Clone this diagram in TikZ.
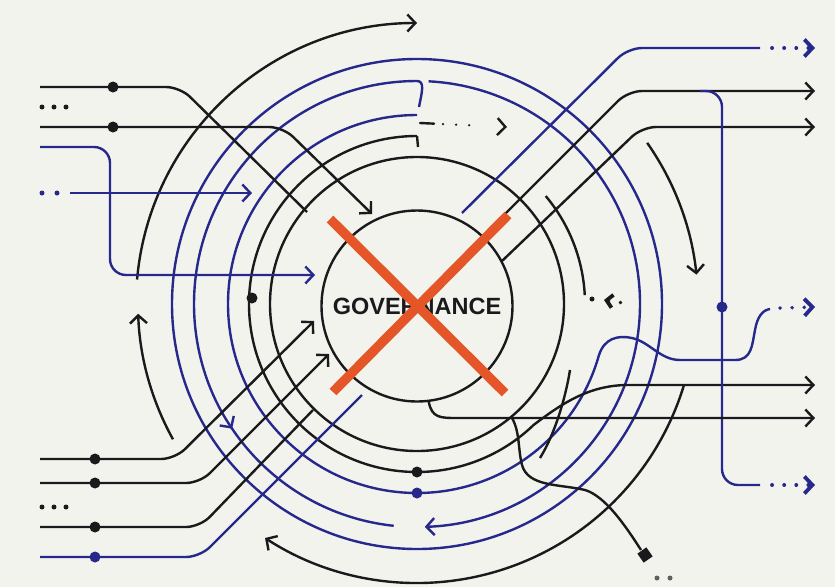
\documentclass[tikz,border=0pt]{standalone}
\usepackage{fontspec}
\setmainfont{Liberation Sans}
\usetikzlibrary{arrows.meta}
\definecolor{bg}{RGB}{243,243,238}
\definecolor{ink}{RGB}{26,26,28}
\definecolor{navy}{RGB}{38,40,140}
\definecolor{xred}{RGB}{228,86,40}
\tikzset{
  blk/.style={draw=ink, line width=2.4pt},
  blu/.style={draw=navy, line width=2.4pt},
  tip/.style={-{Straight Barb[length=8pt,width=17pt]}},
  dotb/.style={fill=ink, circle, inner sep=0pt, minimum size=11pt},
  dotn/.style={fill=navy, circle, inner sep=0pt, minimum size=11pt},
  smalldot/.style={circle, inner sep=0pt, minimum size=5pt},
  dotsline/.style={line width=3.8pt, line cap=round, dash pattern=on 0.1pt off 12pt},
}
\newcommand{\ringarc}[4][]{\draw[#1] ([shift={(417,-304)}]#2:#4) arc[start angle=#2,end angle=#3,radius=#4];}
\begin{document}
\begin{tikzpicture}[x=1pt,y=1pt]
\fill[bg] (0,0) rectangle (835,-587);
\useasboundingbox (0,0) rectangle (835,-587);
\coordinate (c) at (417,-304);

% outer blue ring E
\draw[blu] (c) circle[radius=245];

% ring D (blue), two pieces
\draw[blu, tip] ([shift={(c)}]90:223) arc[start angle=90,end angle=214,radius=223];
\draw[blu] ([shift={(c)}]213:223) arc[start angle=213,end angle=264,radius=223];
\draw[blu] ([shift={(c)}]90:223) .. controls (425,-81) and (422,-92) .. (419,-107);
\draw[blu, tip] ([shift={(c)}]87:223) arc[start angle=87,end angle=-88,radius=223];

% ring C (blue) with wavy exit
\draw[blu] ([shift={(c)}]90:189) arc[start angle=90,end angle=344,radius=189]
  .. controls (604,-338) and (618,-335) .. (632,-338)
  .. controls (650,-342) and (660,-360) .. (680,-360) -- (735,-360)
  .. controls (752,-360) and (752,-345) .. (755,-330)
  .. controls (757,-318) and (762,-310) .. (770,-309);
\draw[navy, dotsline, tip] (780,-308) -- (815,-307);

% ring B (black)
\draw[blk, tip] ([shift={(c)}]90:168) arc[start angle=90,end angle=314,radius=168]
  .. controls (560,-405) and (588,-385) .. (628,-385) -- (815,-385);
\draw[blk] (417,-136) -- (418,-147);
\ringarc[blk]{40}{3}{168}
\draw[ink, dotsline, {Straight Barb[length=6pt,width=13pt]}-] (604,-300) -- (630,-304);
\node[smalldot, fill=ink] (bd1) at (592,-299) {};

% ring A (black)
\draw[blk] (c) circle[radius=147];
\draw[blk] (570,-370) .. controls (566,-395) and (556,-432) .. (540,-458);

% ring F (outer black arrows)
\ringarc[blk,tip]{175}{90}{281}
\ringarc[blk,tip]{209}{182}{279}
\ringarc[blk,tip]{343}{237}{279}
\ringarc[blk,tip]{35}{6}{281}

% top dotted arrow
\draw[ink, line width=2.4pt, line cap=round,
  dash pattern=on 14pt off 9pt on 0.1pt off 13pt on 0.1pt off 13pt on 0.1pt off 60pt, tip]
  (420,-123) -- (507,-127);

% central governance circle
\node[circle, draw=ink, line width=2.4pt, minimum size=191pt, inner sep=0pt,
  font=\bfseries\fontsize{23.5}{26}\selectfont, text=ink] (gov) at (417,-306) {GOVERNANCE};

% inputs top-left
\draw[blk, rounded corners=14pt] (40,-87) -- (180,-87) -- (307,-212);
\draw[blk, rounded corners=14pt, tip] (40,-127) -- (283,-127) -- (372,-214);
\draw[blu, rounded corners=16pt, tip] (40,-147) -- (110,-147) -- (110,-275) -- (315,-275);
\draw[blu, tip] (70,-193) -- (252,-193);
\node[dotb] (t1) at (113,-87) {};
\node[dotb] (t2) at (113,-127) {};
\foreach \i in {42,54,66} \node[smalldot, fill=ink] at (\i,-107) {};
\foreach \i in {42,57} \node[smalldot, fill=navy] at (\i,-193) {};

% inputs bottom-left
\draw[blk, rounded corners=14pt, tip] (40,-459) -- (175,-459) -- (314,-321);
\draw[blk, rounded corners=14pt, tip] (40,-483) -- (200,-483) -- (329,-354);
\draw[blk, rounded corners=14pt] (40,-527) -- (200,-527) -- (313,-410);
\draw[blu, rounded corners=14pt] (40,-557) -- (200,-557) -- (362,-395);
\node[dotb] (l1) at (95,-459) {};
\node[dotb] (l2) at (95,-483) {};
\node[dotb] (l3) at (95,-527) {};
\node[dotn] (l4) at (95,-557) {};
\foreach \i in {42,54,66} \node[smalldot, fill=ink] at (\i,-507) {};

% dots on rings
\node[dotb] (rb1) at (252,-298) {};
\node[dotb] (rb2) at (417,-472) {};
\node[dotn] (rc1) at (417,-493) {};

% outputs right
\draw[blu, rounded corners=14pt] (462,-213) -- (628,-48) -- (760,-48);
\draw[navy, dotsline, tip] (772,-48) -- (815,-48);
\draw[blk, rounded corners=14pt, tip] (505,-214) -- (628,-91) -- (815,-91);
\draw[blk, rounded corners=14pt, tip] (502,-261) -- (642,-127) -- (815,-127);
\draw[blu, rounded corners=16pt] (700,-91) -- (722,-91) -- (722,-485) -- (760,-485);
\draw[navy, dotsline, tip] (772,-485) -- (815,-485);
\node[dotn] (vd) at (722,-307) {};

% tail from the centre
\draw[blk, tip] (gov.-83) .. controls (432,-418) and (440,-418) .. (458,-418) -- (815,-418);
\draw[blk] (512,-418) .. controls (520,-432) and (518,-450) .. (522,-465)
  .. controls (528,-487) and (560,-484) .. (585,-490)
  .. controls (605,-496) and (625,-525) .. (641,-550);
\node[fill=ink, minimum size=11pt, inner sep=0pt, rotate=35] (dm) at (645,-555) {};
\node[smalldot, fill=ink!70] at (657,-578) {};
\node[smalldot, fill=ink!70] at (670,-578) {};

% red cross
\draw[xred, line width=9.5pt] (330,-219) -- (505,-393);
\draw[xred, line width=9.5pt] (508,-215) -- (333,-392);
\end{tikzpicture}
\end{document}
